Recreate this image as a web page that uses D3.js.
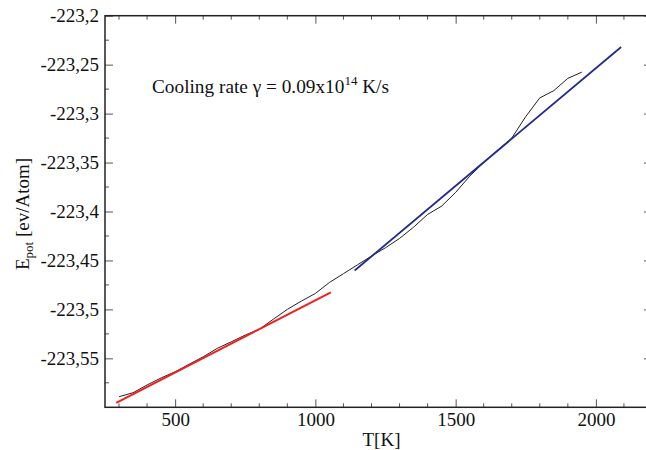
<!DOCTYPE html>
<html>
<head>
<meta charset="utf-8">
<script src="https://cdn.jsdelivr.net/npm/d3@7"></script>
<style>
  body { margin: 0; background: #fff; }
  text { font-family: "Liberation Serif", "Times New Roman", serif; }
</style>
</head>
<body>
<div id="chart"></div>
<script>
// simulation data
var temps = [300, 350, 400, 450, 500, 550, 600, 650, 700, 750, 800, 850, 900, 950, 1000,
  1050, 1100, 1150, 1200, 1250, 1300, 1350, 1400, 1450, 1500, 1550, 1600, 1650, 1700,
  1750, 1800, 1850, 1900, 1950]
var energies = [-223.5892, -223.5851, -223.5772, -223.5700, -223.5637, -223.5560, -223.5484,
  -223.5398, -223.5331, -223.5262, -223.5204, -223.5100, -223.5000, -223.4915, -223.4837,
  -223.4725, -223.4635, -223.4545, -223.4455, -223.4370, -223.4275, -223.4160, -223.4030,
  -223.3945, -223.3805, -223.3640, -223.3500, -223.3374, -223.3250, -223.3030, -223.2840,
  -223.2765, -223.2640, -223.2576]

// linear fits (low T in red, high T in blue)
var lowFitT = [290, 1055]
var lowFitE = [-223.5955, -223.4825]
var highFitT = [1140, 2090]
var highFitE = [-223.4603, -223.2320]

var xTicks = [500, 1000, 1500, 2000]
var yTicks = [-223.55, -223.5, -223.45, -223.4, -223.35, -223.3, -223.25, -223.2]

var width = 646, height = 450
var margin = {top: 15.7, right: -6, bottom: 42.7, left: 105}
var fs = 19

var x = d3.scaleLinear().domain([250, 2200]).range([margin.left, width - margin.right])
var y = d3.scaleLinear().domain([-223.6, -223.2]).range([height - margin.bottom, margin.top])

var comma = d3.formatLocale({decimal: ",", thousands: ".", grouping: [3], currency: ["", ""], minus: "-"})
var yFmt = comma.format(".2~f")

var svg = d3.select("#chart").append("svg")
    .attr("width", width)
    .attr("height", height)

function pts(a, b) { return a.map((t, i) => [t, b[i]]) }

var line = d3.line().x(d => x(d[0])).y(d => y(d[1]))

// minor ticks
var minorX = d3.range(300, 2200, 100).filter(v => v % 500 != 0)
var minorY = d3.range(-223.575, -223.2, 0.05)
var tickCol = "#555"

var ticks = svg.append("g").attr("stroke", tickCol).attr("stroke-width", 1)
ticks.selectAll(".mx").data(minorX).enter().append("line")
    .attr("x1", d => x(d)).attr("x2", d => x(d))
    .attr("y1", y.range()[0]).attr("y2", y.range()[0] - 4)
ticks.selectAll(".mxt").data(minorX).enter().append("line")
    .attr("x1", d => x(d)).attr("x2", d => x(d))
    .attr("y1", y.range()[1]).attr("y2", y.range()[1] + 4)
ticks.selectAll(".my").data(minorY).enter().append("line")
    .attr("y1", d => y(d)).attr("y2", d => y(d))
    .attr("x1", x.range()[0]).attr("x2", x.range()[0] + 4)
ticks.selectAll(".myr").data(minorY).enter().append("line")
    .attr("y1", d => y(d)).attr("y2", d => y(d))
    .attr("x1", x.range()[1]).attr("x2", x.range()[1] - 4)

// axes with inward ticks
var xAxis = svg.append("g")
    .attr("transform", `translate(0,${y.range()[0]})`)
    .call(d3.axisBottom(x).tickValues(xTicks).tickFormat(d3.format("d")).tickSize(-8).tickPadding(13))
var xTop = svg.append("g")
    .attr("transform", `translate(0,${y.range()[1]})`)
    .call(d3.axisTop(x).tickValues(xTicks).tickFormat("").tickSize(-8))
var yAxis = svg.append("g")
    .attr("transform", `translate(${x.range()[0]},0)`)
    .call(d3.axisLeft(y).tickValues(yTicks).tickFormat(yFmt).tickSize(-8).tickPadding(6))
var yRight = svg.append("g")
    .attr("transform", `translate(${x.range()[1]},0)`)
    .call(d3.axisRight(y).tickValues(yTicks).tickFormat("").tickSize(-8))

svg.selectAll(".domain").remove()
svg.selectAll(".tick line").attr("stroke", tickCol)
svg.selectAll(".tick text").attr("font-size", fs).attr("fill", "#111")
    .style("font-family", '"Liberation Serif", serif')
xAxis.selectAll(".tick text").attr("dy", "0.3em")

// frame
svg.append("rect")
    .attr("x", x.range()[0]).attr("y", y.range()[1])
    .attr("width", x.range()[1] - x.range()[0])
    .attr("height", y.range()[0] - y.range()[1])
    .attr("fill", "none").attr("stroke", "#222").attr("stroke-width", 1.5)

// data
svg.append("path").datum(pts(temps, energies))
    .attr("d", line).attr("fill", "none").attr("stroke", "#222").attr("stroke-width", 1)
svg.append("path").datum(pts(lowFitT, lowFitE))
    .attr("d", line).attr("fill", "none").attr("stroke", "#f02020").attr("stroke-width", 2)
svg.append("path").datum(pts(highFitT, highFitE))
    .attr("d", line).attr("fill", "none").attr("stroke", "#252a8c").attr("stroke-width", 1.8)

// axis titles
svg.append("text")
    .attr("x", (x.range()[0] + x.range()[1]) / 2 + 3).attr("y", 446)
    .attr("text-anchor", "middle").attr("font-size", fs).attr("fill", "#111")
    .text("T[K]")

var yl = svg.append("text")
    .attr("transform", "translate(29,214) rotate(-90)")
    .attr("text-anchor", "middle").attr("font-size", fs).attr("fill", "#111")
yl.append("tspan").text("E")
yl.append("tspan").attr("font-size", 13).attr("dy", 4).text("pot")
yl.append("tspan").attr("dy", -4).text(" [ev/Atom]")

// annotation
var note = svg.append("text")
    .attr("x", 152).attr("y", 93.3).attr("font-size", 19.3).attr("fill", "#111")
note.append("tspan").text("Cooling rate \u03b3 = 0.09x10")
note.append("tspan").attr("font-size", 13).attr("dy", -8).text("14")
note.append("tspan").attr("dy", 8).text(" K/s")
</script>
</body>
</html>
